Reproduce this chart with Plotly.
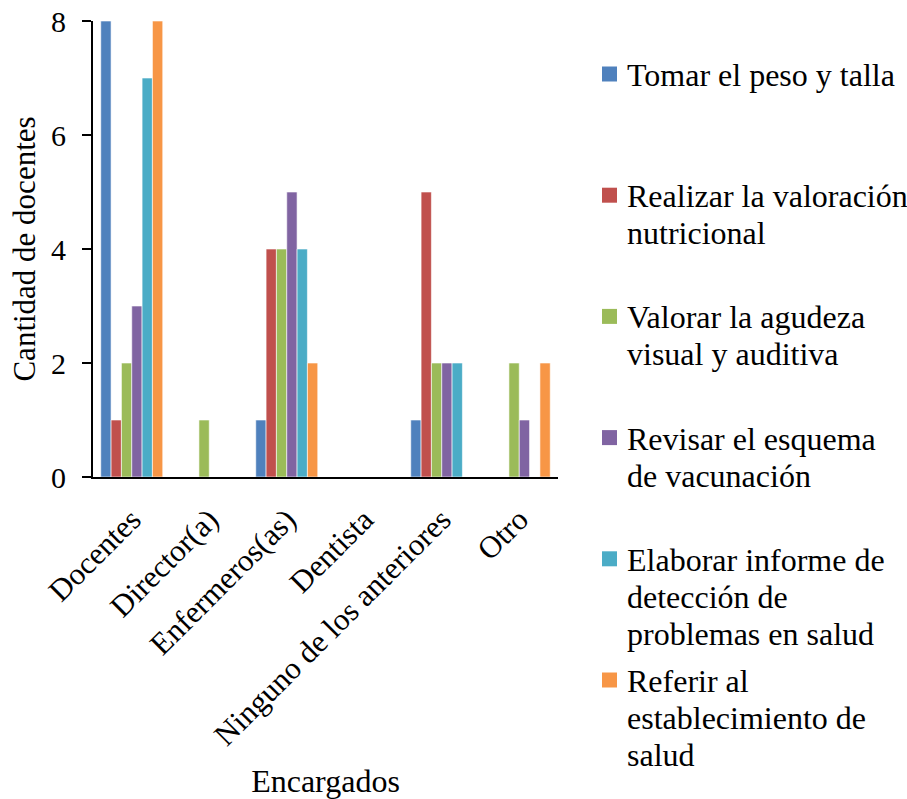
import plotly.graph_objects as go

categories = ["Docentes", "Director(a)", "Enfermeros(as)", "Dentista",
              "Ninguno de los anteriores", "Otro"]

series_names = [
    "Tomar el peso y talla",
    "Realizar la valoración nutricional",
    "Valorar la agudeza visual y auditiva",
    "Revisar el esquema de vacunación",
    "Elaborar informe de detección de problemas en salud",
    "Referir al establecimiento de salud",
]
# wrapped lines used for the side key
legend_lines = [
    ["Tomar el peso y talla"],
    ["Realizar la valoración", "nutricional"],
    ["Valorar la agudeza", "visual y auditiva"],
    ["Revisar el esquema", "de vacunación"],
    ["Elaborar informe de", "detección de", "problemas en salud"],
    ["Referir al", "establecimiento de", "salud"],
]

peso_talla = [8, 0, 1, 0, 1, 0]
valoracion_nutricional = [1, 0, 4, 0, 5, 0]
agudeza = [2, 1, 4, 0, 2, 2]
vacunacion = [3, 0, 5, 0, 2, 1]
informe = [7, 0, 4, 0, 2, 0]
referir = [8, 0, 2, 0, 0, 2]

series_values = [peso_talla, valoracion_nutricional, agudeza,
                 vacunacion, informe, referir]
colors = ["#4F81BD", "#C0504D", "#9BBB59", "#8064A2", "#4BACC6", "#F79646"]

FONT = "Liberation Serif, Times New Roman, serif"
W, H = 907, 799
M_L, M_R, M_T, M_B = 93, 349, 21, 322
PLOT_W = W - M_L - M_R
PLOT_H = H - M_T - M_B


def px_x(px):
    return (px - M_L) / PLOT_W


def px_y(py):
    return 1 - (py - M_T) / PLOT_H


fig = go.Figure()
for name, vals, col in zip(series_names, series_values, colors):
    fig.add_trace(go.Bar(
        x=categories, y=vals, name=name, showlegend=False,
        marker=dict(color=col, line=dict(color="white", width=0.6)),
    ))

# side key: colour swatch + wrapped label for each series
KEY_TOP = 74       # centre of first swatch (px)
KEY_STEP = 121.2   # distance between entries (px)
LINE_STEP = 37     # distance between wrapped lines (px)
SW = 15            # swatch size (px)
SW_X = 602
TEXT_X = 625
shapes, annotations = [], []
for i, (lines, col) in enumerate(zip(legend_lines, colors)):
    cy = KEY_TOP + i * KEY_STEP
    shapes.append(dict(
        type="rect", xref="paper", yref="paper",
        x0=px_x(SW_X), x1=px_x(SW_X + SW),
        y0=px_y(cy - SW / 2), y1=px_y(cy + SW / 2),
        fillcolor=col, line=dict(width=0),
    ))
    for j, txt in enumerate(lines):
        annotations.append(dict(
            xref="paper", yref="paper", x=px_x(TEXT_X), y=px_y(cy + 1 + j * LINE_STEP),
            xanchor="left", yanchor="middle", text=txt, showarrow=False,
            font=dict(family=FONT, size=32, color="black"),
        ))

fig.update_layout(
    width=W, height=H,
    margin=dict(l=M_L, r=M_R, t=M_T, b=M_B),
    paper_bgcolor="white", plot_bgcolor="white",
    barmode="group", bargap=0.2, bargroupgap=0,
    font=dict(family=FONT, size=30, color="black"),
    shapes=shapes, annotations=annotations,
    xaxis=dict(
        title=dict(text="Encargados", font=dict(size=32), standoff=24),
        tickangle=-45, showline=True, linecolor="black", linewidth=2,
        ticks="", showgrid=False, zeroline=False, automargin=False,
        tickfont=dict(size=31), ticklabelstandoff=10,
    ),
    yaxis=dict(
        title=dict(text="Cantidad de docentes", font=dict(size=31), standoff=6),
        range=[0, 8], tickvals=[0, 2, 4, 6, 8],
        showline=True, linecolor="black", linewidth=2,
        ticks="outside", ticklen=9, tickwidth=2, tickcolor="black",
        showgrid=False, zeroline=False, automargin=False,
        tickfont=dict(size=30), ticklabelstandoff=10,
    ),
)

fig.write_html("out.html")
